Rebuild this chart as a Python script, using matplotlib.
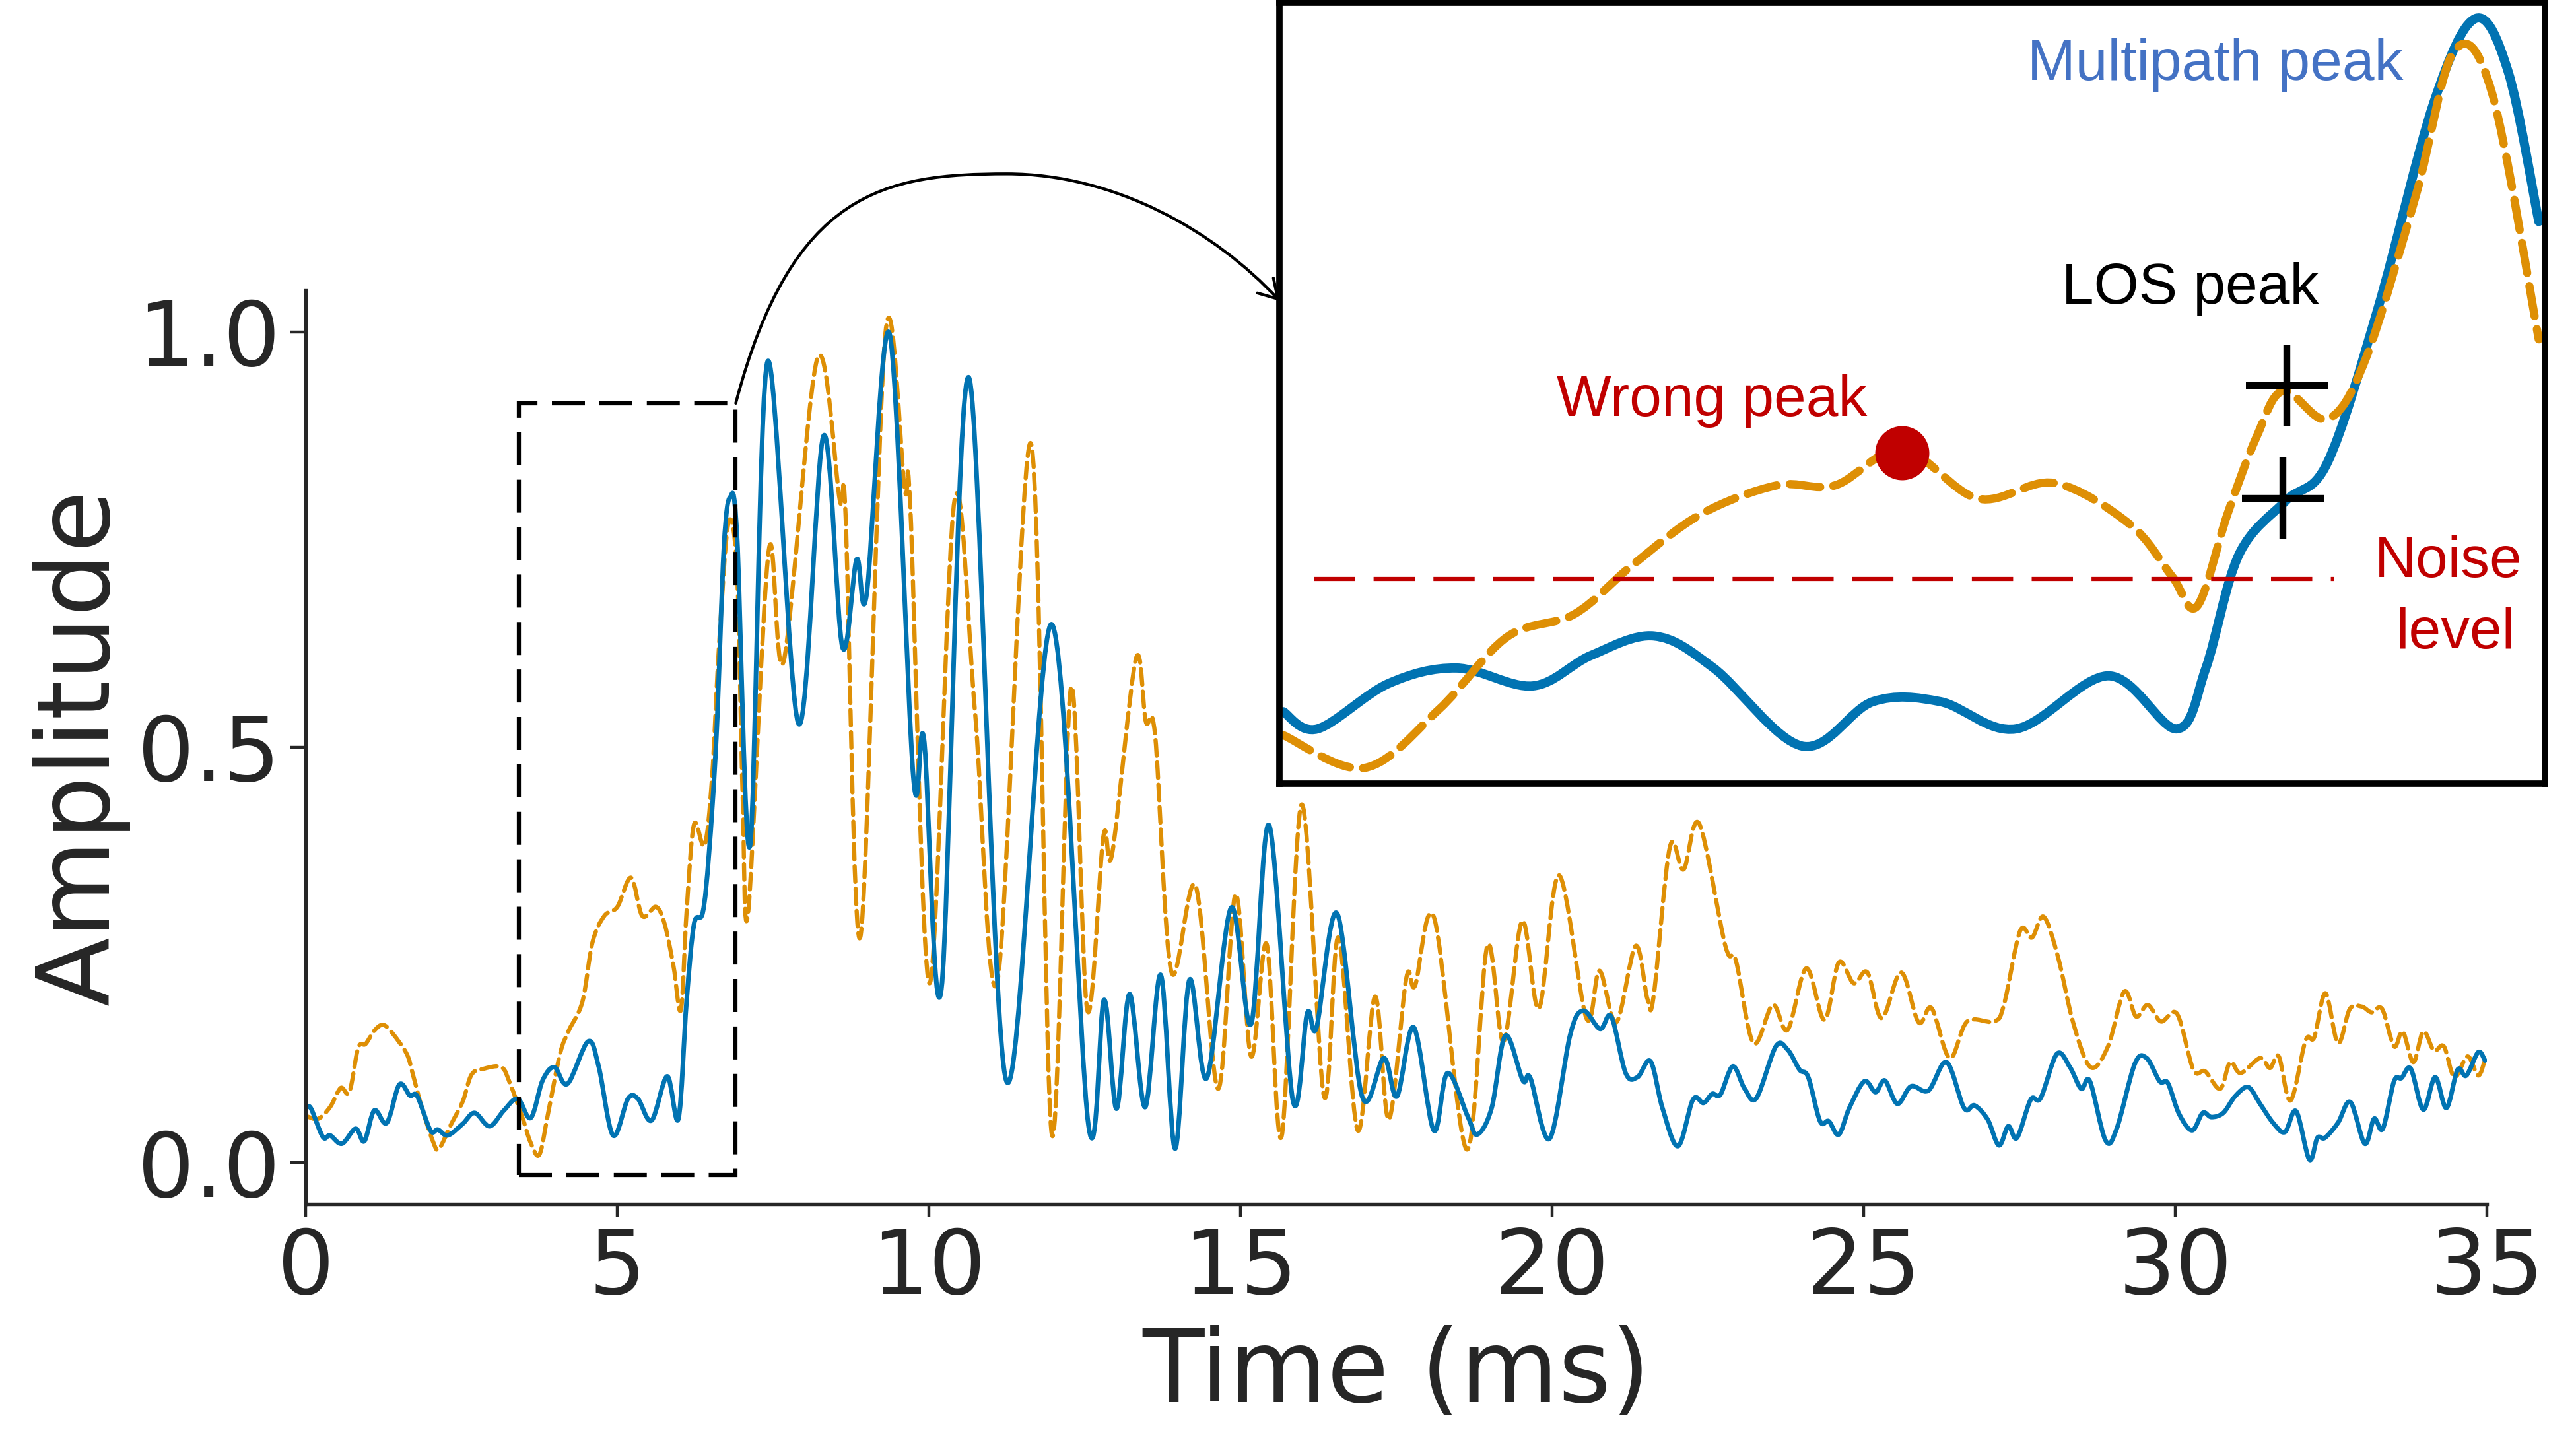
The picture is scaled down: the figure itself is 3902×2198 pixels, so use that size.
# -*- coding: utf-8 -*-
"""
Amplitude vs time, LOS / multipath peak sketch with zoomed inset
"""

import numpy as np
import matplotlib.pyplot as plt
from matplotlib.patches import Rectangle, FancyArrowPatch, PathPatch
from matplotlib.path import Path

########### Data ###########

# solid blue trace
t_blue = [0.015, 0.086, 0.275, 0.39, 0.58, 0.80, 0.94, 1.10, 1.30, 1.50, 1.67, 1.79,
          2.00, 2.12, 2.28, 2.52, 2.71, 2.95, 3.18, 3.40, 3.61, 3.80, 3.99, 4.20,
          4.53, 4.70, 4.93, 5.17, 5.33, 5.55, 5.80, 5.98, 6.11, 6.23, 6.37, 6.47,
          6.59, 6.71, 6.81, 6.92, 7.13, 7.41, 7.91, 8.31, 8.61, 8.84, 9.00, 9.37,
          9.75, 9.92, 10.20, 10.64, 11.24, 11.97, 12.56, 12.81, 13.01, 13.22, 13.47,
          13.72, 13.95, 14.18, 14.46, 14.85, 15.17, 15.46, 15.84, 16.07, 16.22,
          16.55, 16.95, 17.30, 17.51, 17.78, 18.10, 18.32, 18.65, 18.80, 19.03,
          19.25, 19.53, 19.65, 19.96, 20.29, 20.50, 20.77, 20.95, 21.18, 21.37,
          21.58, 21.77, 22.02, 22.26, 22.43, 22.57, 22.70, 22.90, 23.09, 23.28,
          23.59, 23.78, 23.97, 24.11, 24.30, 24.44, 24.60, 24.77, 25.01, 25.19,
          25.34, 25.54, 25.76, 26.04, 26.33, 26.61, 26.78, 26.99, 27.17, 27.32,
          27.46, 27.68, 27.84, 28.10, 28.31, 28.49, 28.63, 28.88, 29.06, 29.35,
          29.54, 29.75, 29.88, 30.06, 30.27, 30.44, 30.58, 30.77, 30.96, 31.17,
          31.36, 31.57, 31.76, 31.94, 32.15, 32.28, 32.40, 32.61, 32.81, 33.04,
          33.19, 33.33, 33.51, 33.63, 33.78, 33.98, 34.17, 34.35, 34.53, 34.67,
          34.86, 34.97]
a_blue = [0.067, 0.065, 0.031, 0.033, 0.023, 0.041, 0.026, 0.063, 0.048, 0.094, 0.081, 0.080,
          0.039, 0.040, 0.033, 0.047, 0.060, 0.044, 0.063, 0.077, 0.054, 0.099, 0.115, 0.095,
          0.146, 0.116, 0.033, 0.077, 0.077, 0.051, 0.104, 0.053, 0.194, 0.287, 0.301, 0.372,
          0.514, 0.741, 0.801, 0.755, 0.382, 0.964, 0.528, 0.875, 0.621, 0.726, 0.684, 0.997,
          0.464, 0.510, 0.209, 0.945, 0.099, 0.648, 0.045, 0.196, 0.065, 0.203, 0.067,
          0.226, 0.017, 0.220, 0.102, 0.307, 0.167, 0.406, 0.075, 0.180, 0.163,
          0.300, 0.080, 0.126, 0.080, 0.163, 0.039, 0.108, 0.055, 0.034, 0.066,
          0.153, 0.099, 0.102, 0.029, 0.154, 0.183, 0.161, 0.176, 0.108, 0.103,
          0.122, 0.066, 0.020, 0.076, 0.072, 0.083, 0.082, 0.116, 0.089, 0.078,
          0.140, 0.136, 0.112, 0.103, 0.050, 0.050, 0.034, 0.066, 0.098, 0.085,
          0.099, 0.071, 0.092, 0.087, 0.121, 0.066, 0.069, 0.052, 0.021, 0.044,
          0.030, 0.076, 0.078, 0.131, 0.115, 0.089, 0.098, 0.027, 0.041, 0.119,
          0.126, 0.098, 0.096, 0.059, 0.039, 0.060, 0.055, 0.060, 0.080, 0.091,
          0.071, 0.048, 0.037, 0.062, 0.004, 0.030, 0.030, 0.048, 0.073, 0.023,
          0.053, 0.041, 0.098, 0.102, 0.113, 0.064, 0.103, 0.066, 0.112, 0.105,
          0.133, 0.123]

# dashed orange trace
t_orange = [0.015, 0.20, 0.39, 0.56, 0.70, 0.84, 0.96, 1.10, 1.24, 1.39, 1.62, 1.72,
            1.86, 2.05, 2.14, 2.33, 2.52, 2.66, 2.85, 3.14, 3.28, 3.47, 3.61, 3.75,
            3.89, 4.08, 4.22, 4.44, 4.60, 4.79, 5.00, 5.22, 5.40, 5.62, 5.76, 5.90,
            6.02, 6.11, 6.23, 6.40, 6.52, 6.63, 6.78, 6.92, 7.01, 7.10, 7.43, 7.67,
            8.21, 8.57, 8.66, 8.90, 9.30, 9.61, 9.70, 10.01, 10.41, 10.74, 11.10,
            11.64, 11.97, 12.28, 12.54, 12.80, 12.94, 13.32, 13.48, 13.63, 13.89,
            14.28, 14.64, 14.92, 15.17, 15.42, 15.66, 15.98, 16.34, 16.57, 16.88,
            17.16, 17.38, 17.66, 17.80, 18.11, 18.63, 18.96, 19.22, 19.52, 19.79,
            20.11, 20.55, 20.76, 21.03, 21.34, 21.53, 21.63, 21.89, 22.11, 22.36,
            22.78, 22.95, 23.23, 23.54, 23.78, 24.08, 24.37, 24.60, 24.84, 25.06,
            25.29, 25.60, 25.88, 26.09, 26.38, 26.66, 27.09, 27.25, 27.51, 27.70,
            27.89, 28.12, 28.36, 28.64, 28.92, 29.18, 29.37, 29.56, 29.77, 30.03,
            30.29, 30.48, 30.72, 30.88, 31.05, 31.36, 31.52, 31.66, 31.85, 32.09,
            32.23, 32.41, 32.61, 32.80, 32.99, 33.15, 33.32, 33.51, 33.65, 33.82,
            33.98, 34.15, 34.31, 34.48, 34.69, 34.86, 34.97]
a_orange = [0.056, 0.053, 0.067, 0.090, 0.085, 0.138, 0.143, 0.159, 0.166, 0.156, 0.131, 0.106,
            0.067, 0.024, 0.017, 0.046, 0.074, 0.106, 0.113, 0.115, 0.095, 0.056, 0.024, 0.010,
            0.060, 0.131, 0.159, 0.194, 0.265, 0.297, 0.308, 0.343, 0.297, 0.308, 0.287, 0.237,
            0.184, 0.301, 0.407, 0.382, 0.464, 0.620, 0.769, 0.712, 0.443, 0.302, 0.737, 0.604,
            0.968, 0.797, 0.783, 0.272, 0.997, 0.811, 0.790, 0.216, 0.797, 0.542, 0.219,
            0.865, 0.035, 0.572, 0.184, 0.393, 0.372, 0.606, 0.531, 0.514, 0.230,
            0.333, 0.089, 0.323, 0.128, 0.263, 0.032, 0.431, 0.080, 0.271, 0.039,
            0.200, 0.052, 0.222, 0.213, 0.294, 0.016, 0.261, 0.146, 0.291, 0.186,
            0.346, 0.174, 0.231, 0.169, 0.261, 0.197, 0.201, 0.380, 0.353, 0.408,
            0.261, 0.243, 0.144, 0.190, 0.160, 0.234, 0.172, 0.241, 0.216, 0.229,
            0.174, 0.229, 0.169, 0.186, 0.126, 0.170, 0.170, 0.190, 0.279, 0.271,
            0.296, 0.247, 0.169, 0.115, 0.140, 0.206, 0.176, 0.190, 0.170, 0.179,
            0.112, 0.110, 0.089, 0.121, 0.108, 0.126, 0.114, 0.128, 0.075, 0.147,
            0.151, 0.204, 0.144, 0.185, 0.188, 0.181, 0.185, 0.140, 0.158, 0.121,
            0.158, 0.135, 0.140, 0.103, 0.128, 0.105, 0.124]

# inset (zoomed sketch, arbitrary 0-100 units)
u_blue = [0.3, 3.0, 8.6, 14.0, 20.0, 24.6, 29.6, 34.3, 41.3, 46.9, 52.2, 58.2, 65.5,
          70.9, 73.2, 75.8, 79.5, 82.8, 86.8, 91.2, 94.5, 97.1, 99.5]
v_blue = [9.2, 7.0, 12.8, 14.8, 12.5, 16.4, 18.9, 14.8, 4.8, 10.5, 10.5, 7.0, 13.8,
          7.0, 14.8, 29.3, 36.2, 41.1, 60.9, 87.2, 98.0, 91.1, 72.0]
u_orange = [0.3, 6.7, 12.6, 18.0, 23.3, 27.9, 33.3, 39.3, 43.9, 49.2, 55.2, 61.2, 67.2,
            70.5, 72.5, 74.9, 77.2, 79.3, 82.8, 85.8, 89.8, 92.8, 95.8, 99.5]
v_orange = [6.2, 2.0, 9.5, 18.8, 21.7, 28.0, 34.5, 38.2, 38.2, 42.8, 36.5, 38.5, 33.2,
            26.6, 22.7, 34.5, 44.4, 50.3, 46.7, 54.3, 75.4, 93.8, 88.5, 56.9]
noise_u = [2.7, 83.3]
noise_v = [26.2, 26.2]
wrong_peak = (49.2, 42.4)
los_peaks_u = [79.6, 79.3]
los_peaks_v = [51.0, 36.5]

xticks = [0, 5, 10, 15, 20, 25, 30, 35]
yticks = [0.0, 0.5, 1.0]
ytick_labels = ['0.0', '0.5', '1.0']

# zoom box on main axes (t0, a0, width, height)
zoom_box = (3.42, -0.015, 3.48, 0.929)

BLUE = '#0173B2'
ORANGE = '#DE8F05'
DARK = '#262626'
RED = '#C00000'

################# Functions #################

def smooth_path(x, y):
    # Catmull-Rom curve through every read point (drawn as cubic Beziers)
    pts = np.column_stack([x, y])
    p = np.vstack([pts[0], pts, pts[-1]])
    verts = [pts[0]]
    codes = [Path.MOVETO]
    for i in range(1, len(p) - 2):
        c1 = p[i] + (p[i + 1] - p[i - 1]) / 6
        c2 = p[i + 1] - (p[i + 2] - p[i]) / 6
        verts += [c1, c2, p[i + 1]]
        codes += [Path.CURVE4] * 3
    return Path(verts, codes)


def draw_curve(axis, x, y, **kw):
    patch = PathPatch(smooth_path(x, y), fill=False, transform=axis.transData,
                      capstyle='round', joinstyle='round', **kw)
    axis.add_patch(patch)
    return patch

################# Figure #################

fig = plt.figure(figsize=(39.02, 21.98), dpi=100)
ax = fig.add_axes([0.1187, 0.170, 0.8467, 0.630])

draw_curve(ax, t_orange, a_orange, ec=ORANGE, lw=4.6, ls='--')
draw_curve(ax, t_blue, a_blue, ec=BLUE, lw=5.0)

ax.set_xlim(0, 35)
ax.set_ylim(-0.05, 1.05)
ax.set_xticks(xticks)
ax.set_yticks(yticks)
ax.set_yticklabels(ytick_labels)

for s in ['top', 'right']:
    ax.spines[s].set_visible(False)
for s in ['left', 'bottom']:
    ax.spines[s].set_linewidth(3.9)
    ax.spines[s].set_color(DARK)

ax.tick_params(axis='both', colors=DARK, labelsize=98, width=3.2)
ax.tick_params(axis='x', length=13.5, pad=10)
ax.tick_params(axis='y', length=17, pad=11)

ax.set_xlabel('Time (ms)', fontsize=110, color=DARK, labelpad=14)
ax.set_ylabel('Amplitude', fontsize=110, color=DARK, labelpad=8)

# dashed zoom rectangle
rect = Rectangle(zoom_box[:2], zoom_box[2], zoom_box[3], fill=False,
                 ec='black', lw=4.5, ls=(0, (8, 3.5)), clip_on=False, zorder=5)
ax.add_patch(rect)

# curved arrow from the box to the inset
x0 = zoom_box[0] + zoom_box[2]
y0 = zoom_box[1] + zoom_box[3]
verts = [(x0, y0), (7.8, 1.17), (9.3, 1.19), (11.25, 1.19),
         (13.0, 1.19), (14.6, 1.12), (15.63, 1.037)]
codes = [Path.MOVETO, Path.CURVE4, Path.CURVE4, Path.CURVE4,
         Path.CURVE4, Path.CURVE4, Path.CURVE4]
arrow = FancyArrowPatch(path=Path(verts, codes), arrowstyle='->,head_length=0.5,head_width=0.3',
                        mutation_scale=40, lw=3.2, color='black',
                        transform=ax.transData, clip_on=False, zorder=6)
ax.add_artist(arrow)

################# Inset #################

ins = fig.add_axes([0.4967, 0.460, 0.4913, 0.538])
ins.set_xlim(0, 100)
ins.set_ylim(0, 100)
ins.set_xticks([])
ins.set_yticks([])
for s in ins.spines.values():
    s.set_linewidth(7)
    s.set_color('black')

draw_curve(ins, u_blue, v_blue, ec=BLUE, lw=10)
draw_curve(ins, u_orange, v_orange, ec=ORANGE, lw=9, ls='--')
ins.plot(noise_u, noise_v, color=RED, lw=4.5, ls=(0, (10, 4.5)))
ins.plot(*wrong_peak, 'o', color=RED, ms=58, zorder=5)
ins.plot(los_peaks_u, los_peaks_v, '+', color='black', ms=89, mew=7.5, zorder=5)

fnt = ['Liberation Sans', 'DejaVu Sans']
ins.text(59.1, 90.1, 'Multipath peak', color='#4472C4', fontsize=63, family=fnt, va='baseline')
ins.text(61.8, 61.5, 'LOS peak', color='black', fontsize=63, family=fnt, va='baseline')
ins.text(21.9, 47.1, 'Wrong peak', color=RED, fontsize=63, family=fnt, va='baseline')
ins.text(98.2, 26.5, 'Noise', color=RED, fontsize=63, family=fnt, va='baseline', ha='right')
ins.text(97.6, 17.3, 'level', color=RED, fontsize=63, family=fnt, va='baseline', ha='right')

plt.savefig('out.png', dpi=100)
